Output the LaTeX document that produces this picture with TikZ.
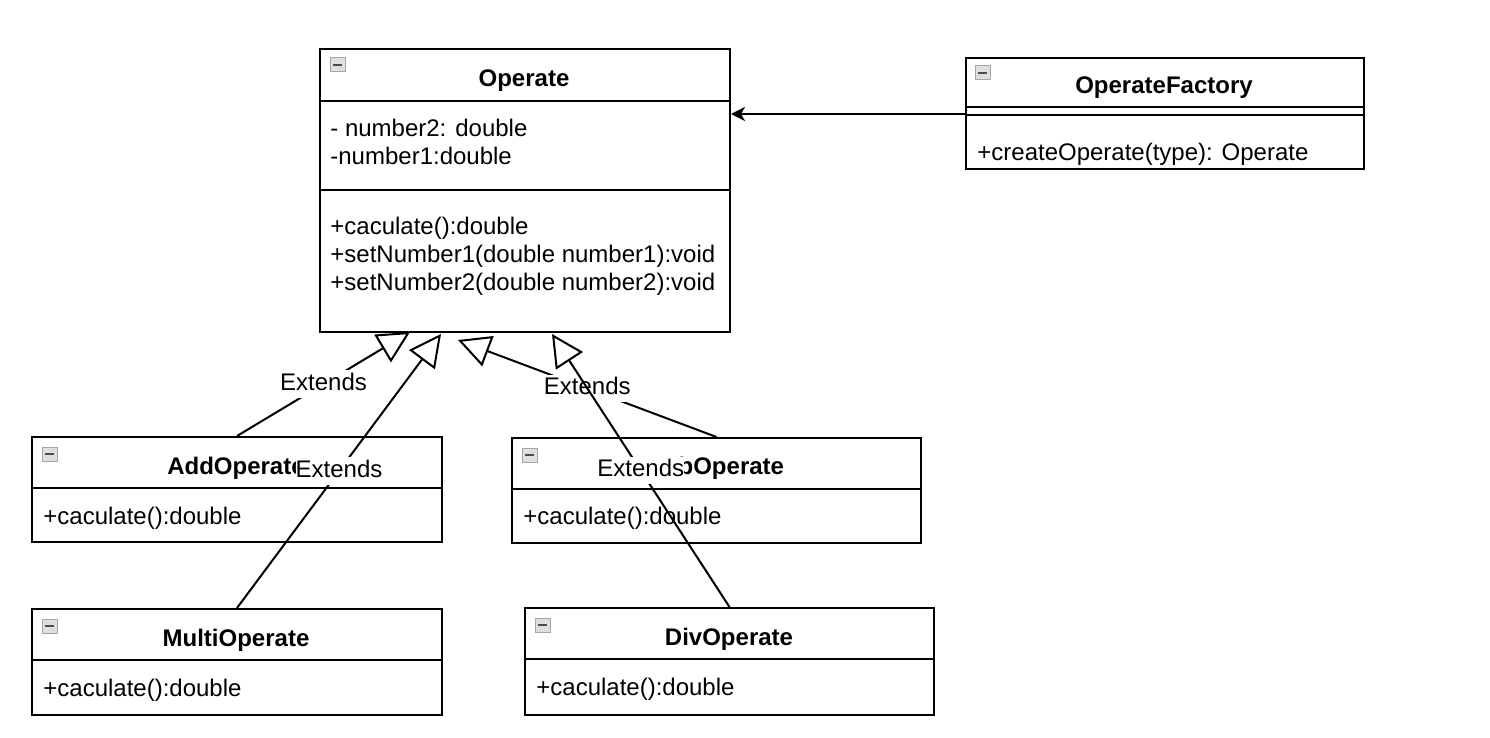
\documentclass[tikz,border=0pt]{standalone}
\usepackage{fontspec}
\setmainfont{Liberation Sans}
\usetikzlibrary{arrows.meta,calc}
\begin{document}
\begin{tikzpicture}[x=0.5pt,y=-0.5pt,
  every node/.style={font=\fontsize{12}{14}\selectfont, inner sep=0pt, text height=10.8pt, text depth=2.6pt},
  cls/.style 2 args={draw, line width=1pt, anchor=north west, minimum width=#1*0.5pt, minimum height=#2*0.5pt, text height=, text depth=},
  ttl/.style={font=\fontsize{12}{14}\selectfont\bfseries},
  txt/.style={anchor=west},
  sep/.style={line width=1pt},
  ext/.style={line width=1pt, -{Triangle[open,length=16pt,width=16pt]}},
  lbl/.style={midway, fill=white, inner xsep=0pt, inner ysep=1.2pt, text height=8.8pt, text depth=2.6pt},
  dep/.style={line width=1pt, -{Stealth[length=7pt,width=7pt,inset=2pt]}},
  mini/.pic={\draw[gray!70, fill=gray!25, line width=0.5pt] (0,0) rectangle (15,14);
             \draw[black!70, line width=1.3pt] (3,7) -- (12,7);}
]
\fill[white] (0,0) rectangle (1490,738);
\useasboundingbox (0,0) rectangle (1490,738);

% Operate
\node[cls={410}{283}] (op) at (319,48) {};
\pic at ($(op.north west)+(11,10)$) {mini};
\node[ttl] (opt) at (524,78) {Operate};
\draw[sep] (319,101) -- (729,101);
\draw[sep] (319,190) -- (729,190);
\node[txt] (op1) at (330,128) {- number2: double};
\node[txt] (op2) at (330,156) {-number1:double};
\node[txt] (op3) at (330,226) {+caculate():double};
\node[txt] (op4) at (330,254) {+setNumber1(double number1):void};
\node[txt] (op5) at (330,282) {+setNumber2(double number2):void};

% OperateFactory
\node[cls={398}{111}] (fac) at (965,57) {};
\pic at ($(fac.north west)+(10,9)$) {mini};
\node[ttl] (fact) at (1164,85) {OperateFactory};
\draw[sep] (965,107) -- (1363,107);
\draw[sep] (965,115) -- (1363,115);
\node[txt] (fac1) at (977,152) {+createOperate(type): Operate};

% AddOperate
\node[cls={410}{105}] (add) at (31,436) {};
\pic at ($(add.north west)+(11,11)$) {mini};
\node[ttl] (addt) at (236,466) {AddOperate};
\draw[sep] (31,488) -- (441,488);
\node[txt] (add1) at (43,516) {+caculate():double};

% SubOperate
\node[cls={409}{105}] (sub) at (511,437) {};
\pic at ($(sub.north west)+(11,11)$) {mini};
\node[ttl] (subt) at (716,466) {SubOperate};
\draw[sep] (511,489) -- (920,489);
\node[txt] (sub1) at (523,516) {+caculate():double};

% MultiOperate
\node[cls={410}{106}] (mul) at (31,608) {};
\pic at ($(mul.north west)+(11,11)$) {mini};
\node[ttl] (mult) at (236,638) {MultiOperate};
\draw[sep] (31,660) -- (441,660);
\node[txt] (mul1) at (43,688) {+caculate():double};

% DivOperate
\node[cls={409}{107}] (div) at (524,607) {};
\pic at ($(div.north west)+(11,11)$) {mini};
\node[ttl] (divt) at (729,637) {DivOperate};
\draw[sep] (524,659) -- (933,659);
\node[txt] (div1) at (536,687) {+caculate():double};

% connector end points
\coordinate (tA) at (410,332);
\coordinate (tM) at (441,334);
\coordinate (tS) at (458,340);
\coordinate (tD) at (552,334);
\coordinate (ft) at (731,114);

% edges
\draw[ext] (add.north) -- node[lbl] {Extends} (tA);
\draw[ext] (mul.north) -- node[lbl] {Extends} (tM);
\draw[ext] (sub.north) -- node[lbl] {Extends} (tS);
\draw[ext] (div.north) -- node[lbl] {Extends} (tD);
\draw[dep] (fac.west |- ft) -- (ft);
\end{tikzpicture}
\end{document}
